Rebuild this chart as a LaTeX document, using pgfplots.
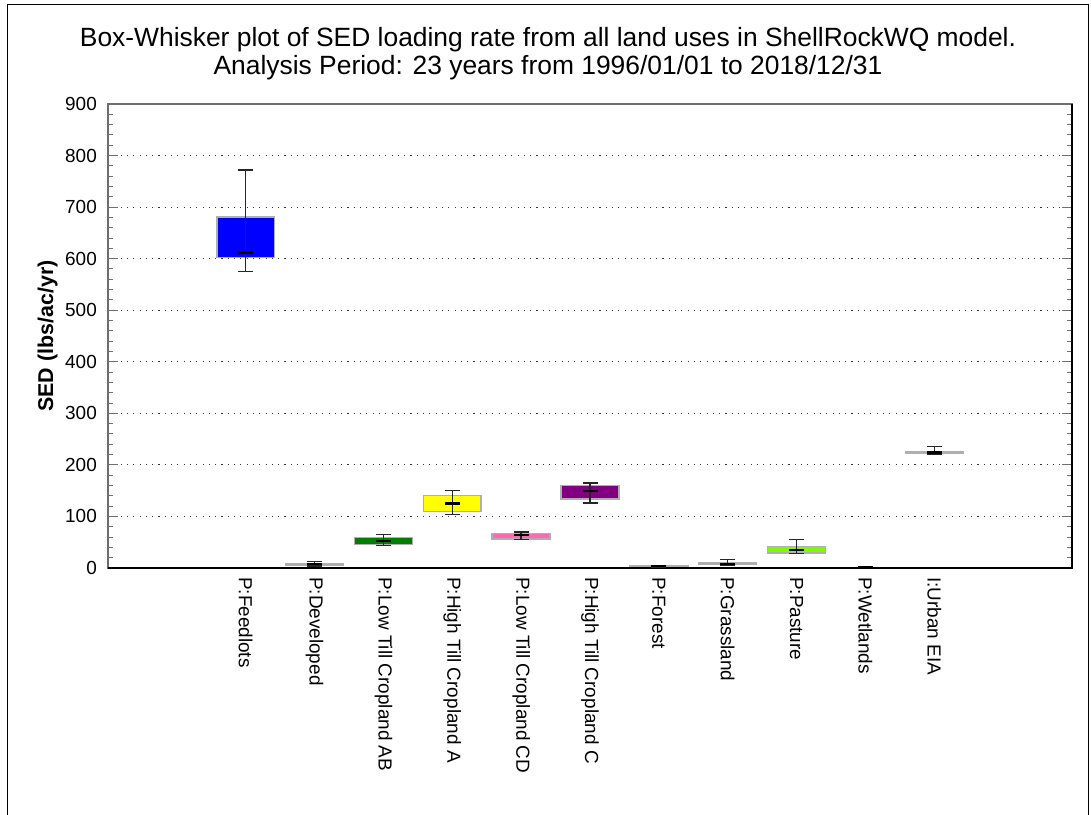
\documentclass[border=0pt]{standalone}
\usepackage{pgfplots}
\usepackage{pgfplotstable}
\pgfplotsset{compat=1.18}
\usepackage{fontspec}
\setmainfont{Liberation Sans}

\definecolor{cFeed}{RGB}{0,0,255}
\definecolor{cDev}{RGB}{192,192,192}
\definecolor{cLowAB}{RGB}{0,128,0}
\definecolor{cHighA}{RGB}{255,255,0}
\definecolor{cLowCD}{RGB}{255,105,180}
\definecolor{cHighC}{RGB}{128,0,128}
\definecolor{cForest}{RGB}{192,192,192}
\definecolor{cGrass}{RGB}{165,85,200}
\definecolor{cPast}{RGB}{124,252,0}
\definecolor{cWet}{RGB}{60,60,60}
\definecolor{cUrban}{RGB}{192,192,192}
\definecolor{boxedge}{RGB}{175,175,175}
\definecolor{axisgrey}{RGB}{110,110,110}

% SED loading rate statistics per land use (lbs/ac/yr)
% pos: category slot; lo/hi: whisker ends; q1/q3: box; med: median
\pgfplotstableread{
pos  lo    q1    med   q3    hi
1    575   602   612   681   772
2    4     5     7     7.5   12
3    43    46    52    59    65
4    104   110   125   141   151
5    55    56    64    67    70
6    126   134   150   160   165
7    2     3     4     4.5   5
8    6     7.5   8     10    17
9    28    29    35    42    55
10   0     0     0.8   1     1.5
11   220   222   224   225   235
}\sedstats

\pgfplotsset{
  box/.style={fill=#1, draw=boxedge, line width=1.5bp, line cap=rect, mark=none},
  whisker/.style={black!85, line width=1.3bp, mark=none},
}

\begin{document}
\begin{tikzpicture}
\path[use as bounding box] (0,0) rectangle (1091bp,815bp);
% outer frame
\draw[black, line width=1bp] (7bp,0) -- (7bp,810bp) -- (1088bp,810bp) -- (1088bp,0);
% title
\node[anchor=base, inner sep=0pt, font=\fontsize{26.5}{28}\selectfont] at (548bp,768bp)
  {Box-Whisker plot of SED loading rate from all land uses in ShellRockWQ model.};
\node[anchor=base, inner sep=0pt, font=\fontsize{26.5}{28}\selectfont] at (548bp,740bp)
  {Analysis Period: 23 years from 1996/01/01 to 2018/12/31};

\begin{axis}[
  at={(108bp,247bp)}, anchor=south west,
  width=964bp, height=464bp, scale only axis,
  xmin=-1, xmax=13, ymin=0, ymax=900,
  xtick={1,...,11},
  xticklabels={P:Feedlots, P:Developed, P:Low Till Cropland AB, P:High Till Cropland A,
    P:Low Till Cropland CD, P:High Till Cropland C, P:Forest, P:Grassland,
    P:Pasture, P:Wetlands, I:Urban EIA},
  xtick style={draw=none},
  xticklabel style={rotate=-90, anchor=west, inner sep=0pt,
    font=\fontsize{19}{22}\selectfont},
  xticklabel shift=9bp,
  ytick={0,100,...,900},
  minor y tick num=4,
  ytick pos=both, yticklabel pos=left,
  tick align=inside,
  major tick length=10bp, minor tick length=5bp,
  every tick/.style={axisgrey, line width=1bp},
  yticklabel style={anchor=east, inner sep=0pt, xshift=-11bp,
    font=\fontsize{19}{22}\selectfont},
  /pgf/number format/assume math mode=true,
  ymajorgrids,
  major grid style={black!80, line width=1.1bp, dash pattern=on 1.1bp off 5.2bp},
  axis line style={axisgrey, line width=1.5bp},
  ylabel={SED (lbs/ac/yr)},
  every axis y label/.style={at={(axis description cs:0,0.5)}, xshift=-55bp,
    rotate=90, anchor=base, font=\bfseries\fontsize{21.5}{24}\selectfont},
  clip=false,
]
% boxes (lower to upper quartile), 0.84 category wide
\addplot[box=cFeed]  coordinates {(0.58,602) (1.42,602) (1.42,681) (0.58,681) (0.58,602)};
\addplot[box=cDev]   coordinates {(1.58,5) (2.42,5) (2.42,7.5) (1.58,7.5) (1.58,5)};
\addplot[box=cLowAB] coordinates {(2.58,46) (3.42,46) (3.42,59) (2.58,59) (2.58,46)};
\addplot[box=cHighA] coordinates {(3.58,110) (4.42,110) (4.42,141) (3.58,141) (3.58,110)};
\addplot[box=cLowCD] coordinates {(4.58,56) (5.42,56) (5.42,67) (4.58,67) (4.58,56)};
\addplot[box=cHighC] coordinates {(5.58,134) (6.42,134) (6.42,160) (5.58,160) (5.58,134)};
\addplot[box=cForest] coordinates {(6.58,3) (7.42,3) (7.42,4.5) (6.58,4.5) (6.58,3)};
\addplot[box=cGrass] coordinates {(7.58,7.5) (8.42,7.5) (8.42,10) (7.58,10) (7.58,7.5)};
\addplot[box=cPast]  coordinates {(8.58,29) (9.42,29) (9.42,42) (8.58,42) (8.58,29)};
\addplot[box=cWet, draw=none] coordinates {(9.58,0) (10.42,0) (10.42,1) (9.58,1) (9.58,0)};
\addplot[box=cUrban] coordinates {(10.58,222) (11.42,222) (11.42,225) (10.58,225) (10.58,222)};
% whiskers from lower to upper end, drawn through the box
\addplot[whisker] coordinates {(1,575) (1,772)};
\addplot[whisker] coordinates {(2,4) (2,12)};
\addplot[whisker] coordinates {(3,43) (3,65)};
\addplot[whisker] coordinates {(4,104) (4,151)};
\addplot[whisker] coordinates {(5,55) (5,70)};
\addplot[whisker] coordinates {(6,126) (6,165)};
\addplot[whisker] coordinates {(7,2) (7,5)};
\addplot[whisker] coordinates {(8,6) (8,17)};
\addplot[whisker] coordinates {(9,28) (9,55)};
\addplot[whisker] coordinates {(10,0) (10,1.5)};
\addplot[whisker] coordinates {(11,220) (11,235)};
% whisker caps
\addplot[only marks, mark=-, mark size=7.5bp, mark options={black!85, line width=1.3bp}]
  table[x=pos, y=lo] {\sedstats};
\addplot[only marks, mark=-, mark size=7.5bp, mark options={black!85, line width=1.3bp}]
  table[x=pos, y=hi] {\sedstats};
% medians
\addplot[only marks, mark=-, mark size=7.5bp, mark options={black, line width=2.2bp}]
  table[x=pos, y=med] {\sedstats};
% right and bottom edges are drawn darker
\draw[black, line width=2bp] (rel axis cs:0,0) -- (rel axis cs:1,0) -- (rel axis cs:1,1);
\end{axis}
\end{tikzpicture}
\end{document}
